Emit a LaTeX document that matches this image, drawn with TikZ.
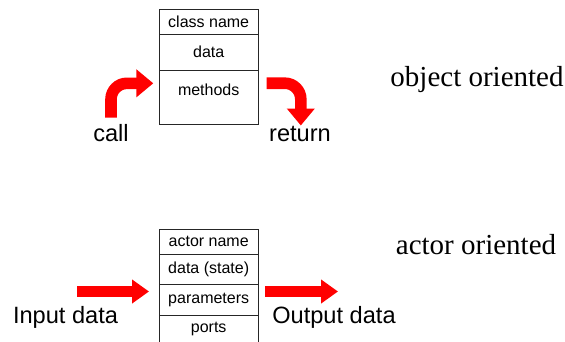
\documentclass[tikz,border=0pt]{standalone}
\usepackage{fontspec}
\setmainfont{Liberation Serif}
\setsansfont{Liberation Sans}
\usetikzlibrary{positioning,arrows.meta}

\tikzset{
	cell/.style={draw=black!85, line width=0.9pt, minimum width=98.7pt, inner sep=0pt, outer sep=0pt, font=\sffamily\fontsize{16}{18}\selectfont},
	celltext/.style={inner sep=0pt, font=\sffamily\fontsize{16}{18}\selectfont},
	fat/.style={red, line width=11.6pt, -{Triangle[length=17pt,width=27pt]}},
	biglabel/.style={anchor=base, inner sep=0pt, font=\sffamily\fontsize{23.6}{26}\selectfont},
	title/.style={anchor=base, inner sep=0pt, font=\rmfamily\fontsize{29}{32}\selectfont}
}

\begin{document}
\begin{tikzpicture}[x=1pt,y=-1pt]
	\useasboundingbox (0,0) rectangle (565,341);
	\clip (0,0) rectangle (565,341);

	% object
	\node [cell, minimum height=25.3pt, anchor=north] (classname) at (208.7,9) {class name};
	\node [cell, minimum height=35.7pt, below=0pt of classname] (data) {data};
	\node [cell, minimum height=54.3pt, below=0pt of data] (methods) {};
	\node [celltext] (methodstext) at ([yshift=-20pt]methods.north) {methods};

	\coordinate (callfrom) at (111,117.5);
	\coordinate (callto) at (153.3,83.3);
	\draw [fat, rounded corners=16pt] (callfrom) |- (callto);
	\coordinate (returnfrom) at (266.7,83.2);
	\coordinate (returnto) at (300.8,125.5);
	\draw [fat, rounded corners=16pt] (returnfrom) -| (returnto);

	\node [biglabel] (call) at (111,141.7) {call};
	\node [biglabel] (return) at (300,141.7) {return};
	\node [title] (oo) at (477,86.7) {object oriented};

	% actor
	\node [cell, minimum height=25.3pt, anchor=north] (actorname) at (208.7,229) {actor name};
	\node [cell, minimum height=29.7pt, below=0pt of actorname] (state) {data (state)};
	\node [cell, minimum height=31pt, below=0pt of state] (params) {parameters};
	\node [cell, minimum height=27pt, below=0pt of params] (ports) {ports};

	\coordinate (infrom) at (77,291.5);
	\coordinate (into) at (149,291.5);
	\draw [fat, -{Triangle[length=17pt,width=23pt]}] (infrom) -- (into);
	\coordinate (outfrom) at (265,291.5);
	\coordinate (outto) at (338,291.5);
	\draw [fat, -{Triangle[length=17pt,width=23pt]}] (outfrom) -- (outto);

	\node [biglabel] (input) at (65.5,323) {Input data};
	\node [biglabel] (output) at (334,323) {Output data};
	\node [title] (ao) at (476,254) {actor oriented};
\end{tikzpicture}
\end{document}
